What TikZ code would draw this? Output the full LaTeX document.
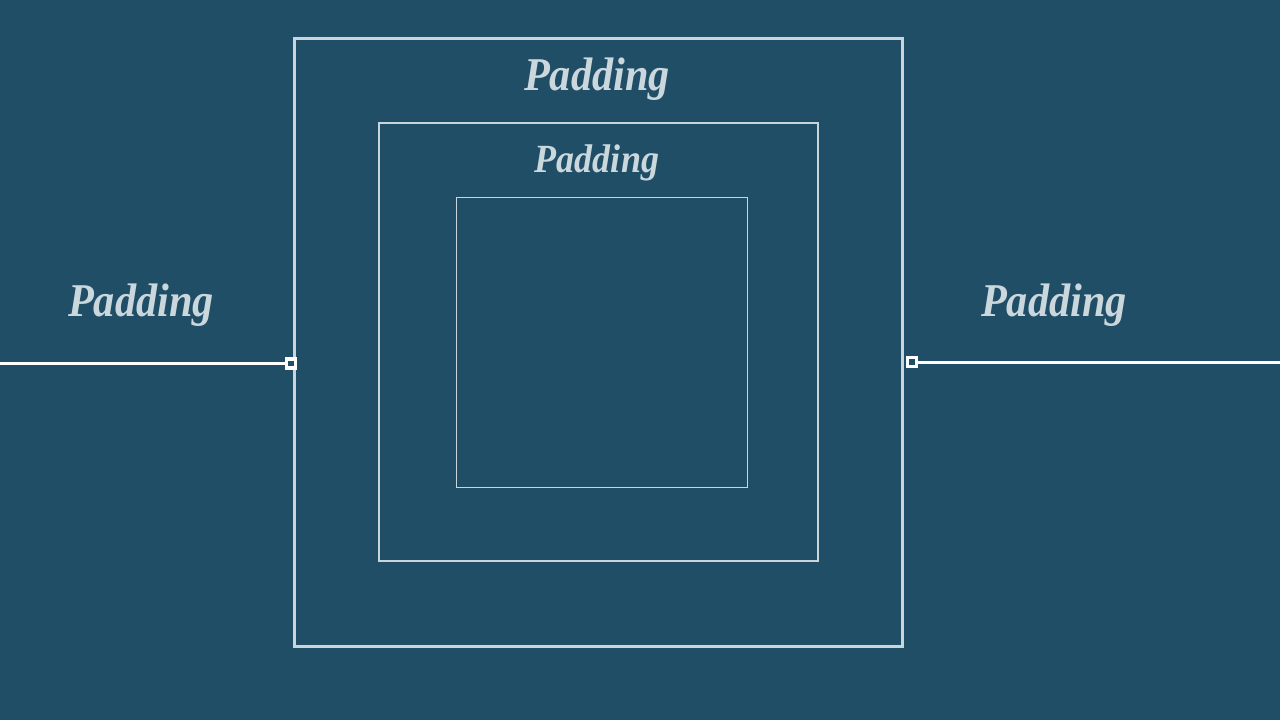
\documentclass[tikz,border=0pt]{standalone}
\usepackage{fontspec}
\usepackage{graphicx}
\setmainfont{Liberation Serif}
\usepackage{tikz}
\usetikzlibrary{positioning}
\definecolor{bg}{HTML}{1F4E66}
\definecolor{boxline}{HTML}{C8D6DC}
\definecolor{lbl}{HTML}{CAD7DD}
\newcommand{\padword}[1]{\fontsize{#1}{#1}\selectfont\bfseries\itshape\scalebox{0.9}[1]{Padding}}
\tikzset{
    box/.style={draw=boxline, fill=none, inner sep=0pt},
    port/.style={draw=white, line width=3.4pt, fill=bg, minimum size=9pt, inner sep=0pt},
    wire/.style={draw=white, line width=3pt},
    lbl/.style={text=lbl, anchor=base, inner sep=0pt}
}

\begin{document}
\begin{tikzpicture}[x=1pt, y=-1pt]
                        \fill[bg] (0,0) rectangle (1280,720);
                        \useasboundingbox (0,0) rectangle (1280,720);
                        % nested boxes
                        \node[box, line width=3pt, minimum width=608pt, minimum height=608pt] (outer) at (598,342) {};
                        \node[box, line width=2pt, minimum width=439pt, minimum height=438pt] (middle) at (598.5,342) {};
                        \node[box, line width=1pt, minimum width=291pt, minimum height=290pt] (inner) at (601.5,342) {};
                        % labels
                        \node[lbl] (toplbl) at (597,90) {\padword{47}};
                        \node[lbl] (midlbl) at (597,172) {\padword{40}};
                        \node[lbl] (leftlbl) at (141,316) {\padword{47}};
                        \node[lbl] (rightlbl) at (1054,316) {\padword{47}};
                        % ports and wires
                        \node[port] (lport) at (291,363.5) {};
                        \node[port] (rport) at (912,362) {};
                        \coordinate (lend) at (0,363.5);
                        \coordinate (rend) at (1280,362);
                        \draw[wire] (lend) -- (lport);
                        \draw[wire] (rport) -- (rend);
                    \end{tikzpicture}
\end{document}
